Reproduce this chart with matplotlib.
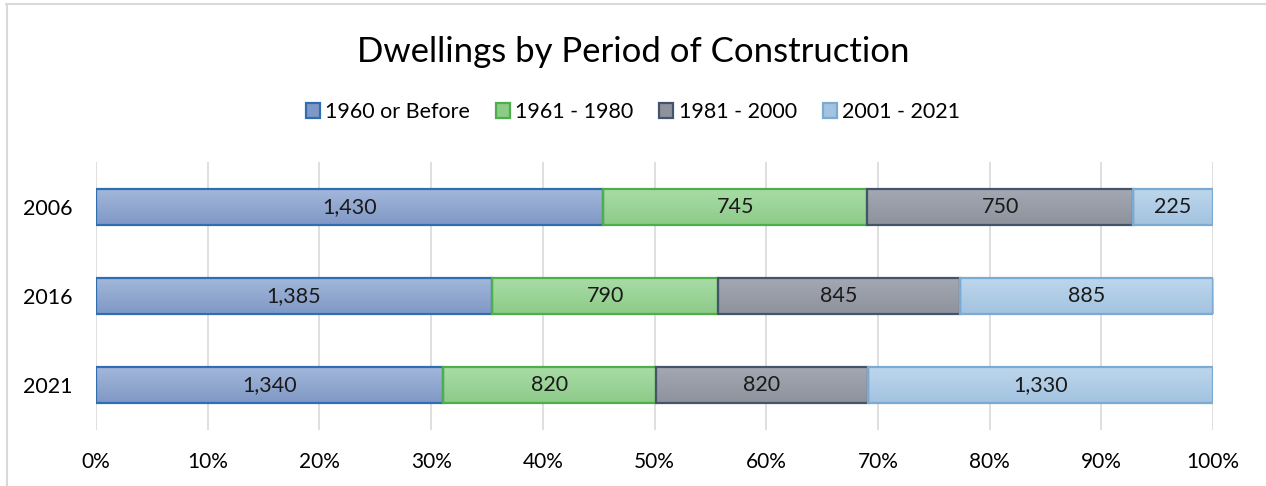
import matplotlib
matplotlib.use("Agg")
import matplotlib.pyplot as plt
from matplotlib.lines import Line2D
from matplotlib.patches import Patch
from matplotlib.colors import LinearSegmentedColormap
import numpy as np

# Daten
years = ["2006", "2016", "2021"]
periods = ["1960 or Before", "1961 - 1980", "1981 - 2000", "2001 - 2021"]
before_1960 = [1430, 1385, 1340]
p1961_1980 = [745, 790, 820]
p1981_2000 = [750, 845, 820]
p2001_2021 = [225, 885, 1330]

# Farben (oben hell, unten dunkel) und Randfarben
tops = ["#A3B7DA", "#A8DCA5", "#A4A8B2", "#BDD6EC"]
bottoms = ["#7F98C5", "#8DCB89", "#8E929D", "#A3C3E0"]
edges = ["#2F6EB0", "#4DAF4A", "#44546A", "#7BAAD3"]

plt.rcParams["font.family"] = ["Lato", "DejaVu Sans"]

fig = plt.figure(figsize=(12.66, 4.86), dpi=100)
ax = fig.add_axes([96 / 1266, 1 - 430 / 486, (1213 - 96) / 1266, (430 - 162) / 486])

series = [before_1960, p1961_1980, p1981_2000, p2001_2021]
totals = np.sum(series, axis=0)
y = np.arange(len(years))
left = np.zeros(len(years))
grad = np.linspace(0, 1, 64).reshape(-1, 1)
for vals, top, bot, ec in zip(series, tops, bottoms, edges):
    share = np.array(vals) / totals * 100
    bars = ax.barh(y, share, left=left, height=0.4, facecolor="none", edgecolor=ec, linewidth=1.6, zorder=4)
    cmap = LinearSegmentedColormap.from_list("g", [top, bot])
    for p in bars.patches:
        x0, y0, w, h = p.get_x(), p.get_y(), p.get_width(), p.get_height()
        im = ax.imshow(grad, cmap=cmap, aspect="auto", extent=[x0, x0 + w, y0 + h, y0], zorder=3)
        im.set_clip_path(p)
    for yi, l, s, v in zip(y, left, share, vals):
        ax.text(l + s / 2, yi, f"{v:,}", ha="center", va="center", fontsize=15.5, color="#1a1a1a", zorder=5)
    left = left + share

ax.set_xlim(0, 100)
ax.set_ylim(2.5, -0.5)
ax.set_xticks(np.arange(0, 101, 10))
ax.set_xticklabels([f"{t}%" for t in range(0, 101, 10)], fontsize=15)
ax.set_yticks(y)
ax.set_yticklabels(years, fontsize=15.5)
ax.tick_params(axis="x", length=0, pad=16)
ax.tick_params(axis="y", length=0, pad=17)
ax.grid(axis="x", color="#D9D9D9", linewidth=1.2, zorder=0)
ax.set_axisbelow(True)
for s in ax.spines.values():
    s.set_visible(False)

fig.text(0.5, 1 - 52 / 486, "Dwellings by Period of Construction", ha="center", va="center", fontsize=25)

handles = [Patch(facecolor=b, edgecolor=ec, linewidth=1.6) for b, ec in zip(bottoms, edges)]
fig.legend(handles, periods, loc="center", bbox_to_anchor=(0.5, 1 - 112 / 486), ncol=4, frameon=False,
           fontsize=15.5, handlelength=0.65, handleheight=0.65, handletextpad=0.25, columnspacing=1.2)

# Rahmen oben und links
fig.add_artist(Line2D([6 / 1266, 1], [1 - 4 / 486, 1 - 4 / 486], color="#D9D9D9", linewidth=1.5))
fig.add_artist(Line2D([6.5 / 1266, 6.5 / 1266], [0, 1 - 4 / 486], color="#D9D9D9", linewidth=1.5))

fig.savefig("out.png", dpi=100)
